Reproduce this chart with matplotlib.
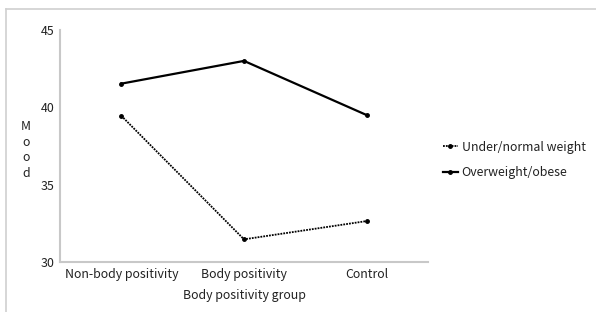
import matplotlib.pyplot as plt
from matplotlib.lines import Line2D

plt.rcParams['font.family'] = ['Noto Sans CJK KR', 'DejaVu Sans']

groups = ['Non-body positivity', 'Body positivity', 'Control']
under_normal = [39.45, 31.47, 32.65]
overweight = [41.53, 43.0, 39.5]

fig = plt.figure(figsize=(5.96, 3.12), dpi=100)
ax = fig.add_axes([0.1007, 0.160, 0.6174, 0.744])

x = range(len(groups))
ax.plot(x, under_normal, color='black', linestyle=(0, (1, 0.6)), linewidth=1.3,
        marker='o', markersize=2.5, label='Under/normal weight')
ax.plot(x, overweight, color='black', linestyle='-', linewidth=1.6,
        marker='o', markersize=2.5, label='Overweight/obese')

ax.set_xlim(-0.5, 2.5)
ax.set_ylim(30, 45)
ax.set_yticks([30, 35, 40, 45])
ax.set_xticks(list(x))
ax.set_xticklabels(groups)
ax.tick_params(length=0, labelsize=8.9, colors='#222222', pad=4)
for s in ['top', 'right']:
    ax.spines[s].set_visible(False)
for s in ['left', 'bottom']:
    ax.spines[s].set_color('#c8c8c8')
    ax.spines[s].set_linewidth(1.5)

ax.set_xlabel('Body positivity group', fontsize=8.9, color='#222222', labelpad=6)
fig.text(0.044, 0.52, 'M\no\no\nd', fontsize=8.9, color='#222222',
         ha='center', va='center', linespacing=1.25)

leg = ax.legend(loc='center left', bbox_to_anchor=(1.027, 0.44), frameon=False,
                fontsize=8.9, handlelength=1.2, handletextpad=0.32,
                borderaxespad=0.0, borderpad=0.4,
                labelspacing=1.0, labelcolor='#222222')

# outer frame lines (top and left)
fig.add_artist(Line2D([0.01, 1.0], [0.971, 0.971], color='#d0d0d0', linewidth=1.2))
fig.add_artist(Line2D([0.01, 0.01], [0.0, 0.971], color='#d0d0d0', linewidth=1.2))

fig.savefig('out.png', dpi=100)
